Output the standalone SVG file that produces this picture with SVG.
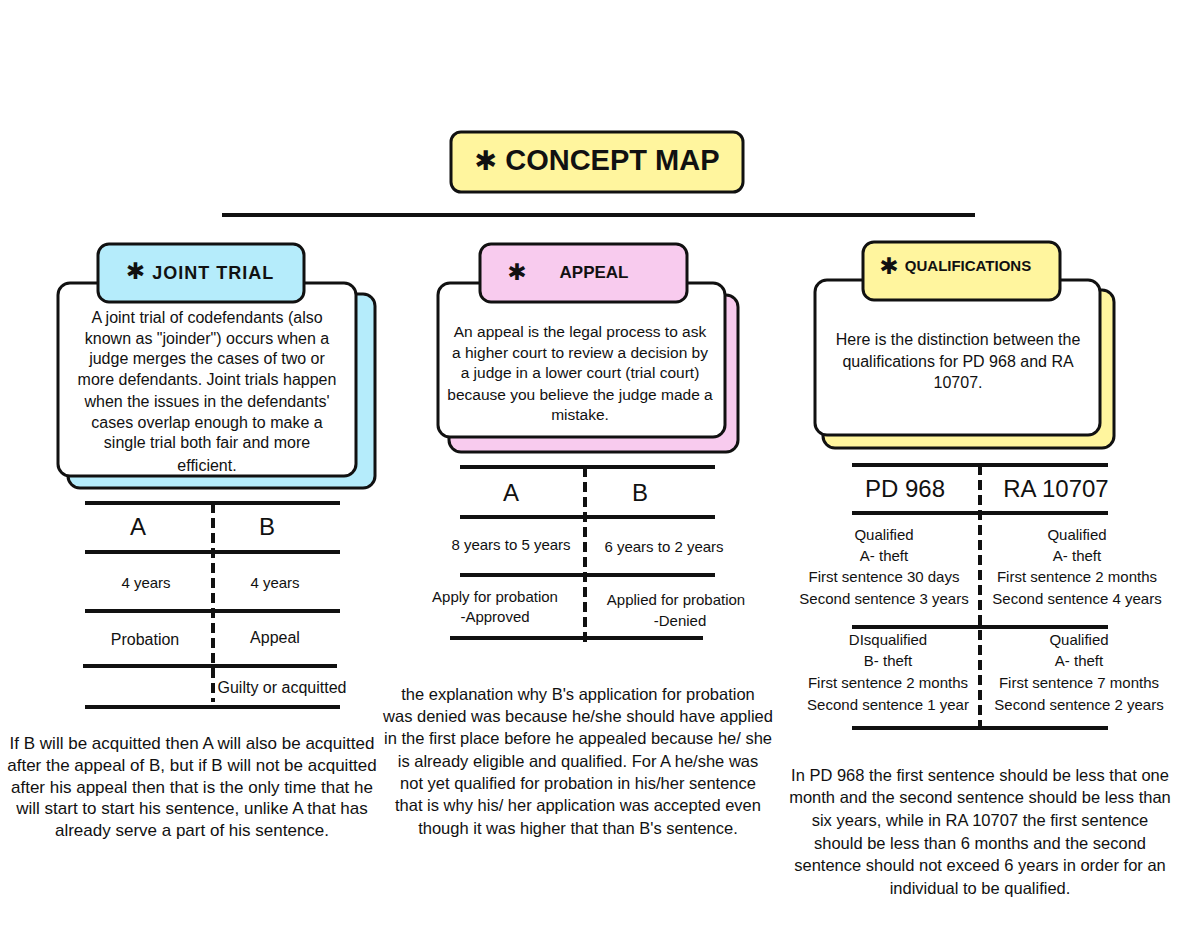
<svg xmlns="http://www.w3.org/2000/svg" width="1200" height="927" viewBox="0 0 1200 927">
<style>
  .t { font-family: "Liberation Sans", Arial, sans-serif; fill: #111; text-anchor: middle; }
  .card { font-size: 16px; }
  .card2 { font-size: 15.5px; }
  .cell { font-size: 15px; }
  .cell16 { font-size: 16px; }
  .note { font-size: 17px; }
  .note2 { font-size: 16.5px; }
  .hdr { font-size: 24px; }
  .tab { font-weight: bold; }
  .star { font-family: "DejaVu Sans", sans-serif; font-weight: bold; }
  .box { stroke: #111; stroke-width: 3; }
  .rule { stroke: #111; stroke-width: 4; stroke-linecap: butt; }
  .dash { stroke: #111; stroke-width: 4; stroke-dasharray: 10 5; }
  .blue { fill: #b5ecfb; }
  .pink { fill: #f8cbee; }
  .yellow { fill: #fff59e; }
  .white { fill: #ffffff; }
</style>
<rect width="1200" height="927" fill="#ffffff"/>

<g id="title">
  <rect class="box yellow" x="451" y="132" width="292" height="60" rx="10"/>
  <text class="t tab" x="597" y="170" font-size="29"><tspan class="star" font-size="27">✱</tspan> CONCEPT MAP</text>
</g>

<g id="connectors">
  <line class="rule" x1="222" y1="215" x2="975" y2="215"/>
</g>

<g id="joint-trial">
  <rect class="box blue" x="68" y="294" width="307" height="194" rx="12"/>
  <rect class="box white" x="58" y="283" width="298" height="193" rx="12"/>
  <rect class="box blue" x="98" y="244" width="206" height="58" rx="11"/>
  <text class="t tab" x="200" y="279" font-size="18" letter-spacing="1"><tspan class="star" font-size="23">✱</tspan> JOINT TRIAL</text>
  <text class="t card" x="207" y="323">A joint trial of codefendants (also</text>
  <text class="t card" x="207" y="344">known as "joinder") occurs when a</text>
  <text class="t card" x="207" y="364">judge merges the cases of two or</text>
  <text class="t card" x="207" y="385">more defendants. Joint trials happen</text>
  <text class="t card" x="207" y="407">when the issues in the defendants'</text>
  <text class="t card" x="207" y="428">cases overlap enough to make a</text>
  <text class="t card" x="207" y="448">single trial both fair and more</text>
  <text class="t card" x="207" y="471">efficient.</text>
</g>

<g id="joint-trial-table">
  <line class="rule" x1="85" y1="503" x2="340" y2="503"/>
  <line class="rule" x1="85" y1="552" x2="340" y2="552"/>
  <line class="rule" x1="85" y1="611" x2="340" y2="611"/>
  <line class="rule" x1="83" y1="666" x2="337" y2="666"/>
  <line class="rule" x1="85" y1="707" x2="340" y2="707"/>
  <line class="dash" x1="213" y1="503" x2="213" y2="702"/>
  <text class="t hdr" x="138" y="535">A</text>
  <text class="t hdr" x="267" y="535">B</text>
  <text class="t cell" x="146" y="588">4 years</text>
  <text class="t cell" x="275" y="588">4 years</text>
  <text class="t cell16" x="145" y="645">Probation</text>
  <text class="t cell16" x="275" y="643">Appeal</text>
  <text class="t cell16" x="282" y="693">Guilty or acquitted</text>
</g>

<g id="joint-trial-note">
  <text class="t note" x="192" y="749">If B will be acquitted then A will also be acquitted</text>
  <text class="t note" x="192" y="771">after the appeal of B, but if B will not be acquitted</text>
  <text class="t note" x="192" y="793">after his appeal then that is the only time that he</text>
  <text class="t note" x="192" y="814">will start to start his sentence, unlike A that has</text>
  <text class="t note" x="192" y="836">already serve a part of his sentence.</text>
</g>

<g id="appeal">
  <rect class="box pink" x="449" y="295" width="289" height="157" rx="12"/>
  <rect class="box white" x="438" y="283" width="287" height="154" rx="12"/>
  <rect class="box pink" x="480" y="244" width="207" height="58" rx="11"/>
  <text class="t star" x="517" y="280" font-size="23">✱</text>
  <text class="t tab" x="594" y="278" font-size="17">APPEAL</text>
  <text class="t card2" x="580" y="337">An appeal is the legal process to ask</text>
  <text class="t card2" x="580" y="358">a higher court to review a decision by</text>
  <text class="t card2" x="580" y="378">a judge in a lower court (trial court)</text>
  <text class="t card2" x="580" y="400">because you believe the judge made a</text>
  <text class="t card2" x="580" y="420">mistake.</text>
</g>

<g id="appeal-table">
  <line class="rule" x1="460" y1="467" x2="715" y2="467"/>
  <line class="rule" x1="460" y1="517" x2="715" y2="517"/>
  <line class="rule" x1="460" y1="575" x2="715" y2="575"/>
  <line class="rule" x1="450" y1="638" x2="703" y2="638"/>
  <line class="dash" x1="585" y1="467" x2="585" y2="642"/>
  <text class="t hdr" x="511" y="501">A</text>
  <text class="t hdr" x="640" y="501">B</text>
  <text class="t cell" x="511" y="550">8 years to 5 years</text>
  <text class="t cell" x="664" y="552">6 years to 2 years</text>
  <text class="t cell" x="495" y="602">Apply for probation</text>
  <text class="t cell" x="495" y="622">-Approved</text>
  <text class="t cell" x="676" y="605">Applied for probation</text>
  <text class="t cell" x="680" y="626">-Denied</text>
</g>

<g id="appeal-note">
  <text class="t note2" x="578" y="700">the explanation why B's application for probation</text>
  <text class="t note2" x="578" y="722">was denied was because he/she should have applied</text>
  <text class="t note2" x="578" y="744">in the first place before he appealed because he/ she</text>
  <text class="t note2" x="578" y="767">is already eligible and qualified. For A he/she was</text>
  <text class="t note2" x="578" y="789">not yet qualified for probation in his/her sentence</text>
  <text class="t note2" x="578" y="811">that is why his/ her application was accepted even</text>
  <text class="t note2" x="578" y="834">though it was higher that than B's sentence.</text>
</g>

<g id="qualifications">
  <rect class="box yellow" x="823" y="290" width="291" height="158" rx="12"/>
  <rect class="box white" x="815" y="280" width="285" height="155" rx="12"/>
  <rect class="box yellow" x="863" y="242" width="197" height="58" rx="11"/>
  <text class="t star" x="889" y="274" font-size="23">✱</text>
  <text class="t tab" x="968" y="271" font-size="15">QUALIFICATIONS</text>
  <text class="t card" x="958" y="345">Here is the distinction between the</text>
  <text class="t card" x="958" y="367">qualifications for PD 968 and RA</text>
  <text class="t card" x="958" y="388">10707.</text>
</g>

<g id="qualifications-table">
  <line class="rule" x1="852" y1="465" x2="1108" y2="465"/>
  <line class="rule" x1="852" y1="513" x2="1108" y2="513"/>
  <line class="rule" x1="852" y1="627" x2="1108" y2="627"/>
  <line class="rule" x1="852" y1="728" x2="1108" y2="728"/>
  <line class="dash" x1="980" y1="465" x2="980" y2="730"/>
  <text class="t hdr" x="905" y="497" font-size="25">PD 968</text>
  <text class="t hdr" x="1056" y="497" font-size="25">RA 10707</text>
  <text class="t cell" x="884" y="540">Qualified</text>
  <text class="t cell" x="884" y="561">A- theft</text>
  <text class="t cell" x="884" y="582">First sentence 30 days</text>
  <text class="t cell" x="884" y="604">Second sentence 3 years</text>
  <text class="t cell" x="1077" y="540">Qualified</text>
  <text class="t cell" x="1077" y="561">A- theft</text>
  <text class="t cell" x="1077" y="582">First sentence 2 months</text>
  <text class="t cell" x="1077" y="604">Second sentence 4 years</text>
  <text class="t cell" x="888" y="645">DIsqualified</text>
  <text class="t cell" x="888" y="666">B- theft</text>
  <text class="t cell" x="888" y="688">First sentence 2 months</text>
  <text class="t cell" x="888" y="710">Second sentence 1 year</text>
  <text class="t cell" x="1079" y="645">Qualified</text>
  <text class="t cell" x="1079" y="666">A- theft</text>
  <text class="t cell" x="1079" y="688">First sentence 7 months</text>
  <text class="t cell" x="1079" y="710">Second sentence 2 years</text>
</g>

<g id="qualifications-note">
  <text class="t note2" x="980" y="781">In PD 968 the first sentence should be less that one</text>
  <text class="t note2" x="980" y="803">month and the second sentence should be less than</text>
  <text class="t note2" x="980" y="826">six years, while in RA 10707 the first sentence</text>
  <text class="t note2" x="980" y="849">should be less than 6 months and the second</text>
  <text class="t note2" x="980" y="871">sentence should not exceed 6 years in order for an</text>
  <text class="t note2" x="980" y="894">individual to be qualified.</text>
</g>
</svg>
